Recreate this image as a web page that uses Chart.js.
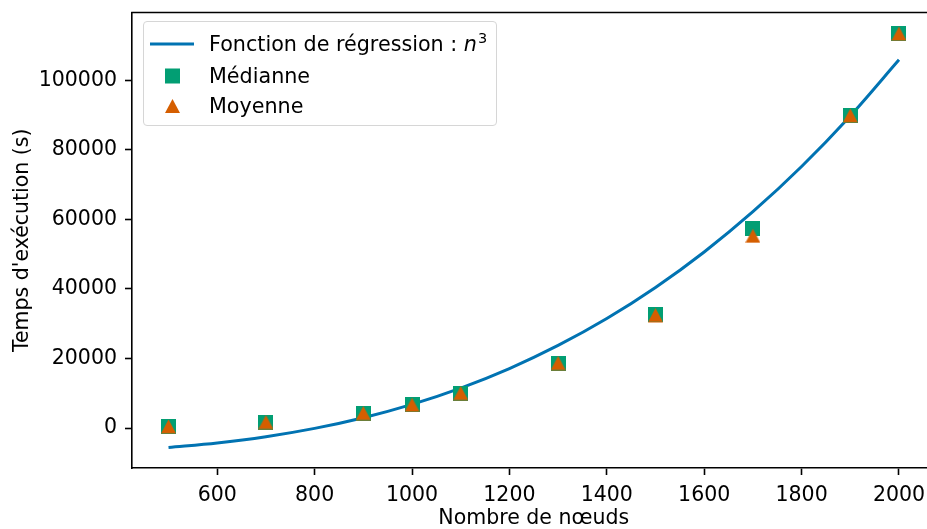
<!DOCTYPE html>
<html>
<head>
<meta charset="utf-8">
<script src="https://cdn.jsdelivr.net/npm/chart.js@4.4.1/dist/chart.umd.min.js"></script>
<style>
  html, body { margin: 0; padding: 0; background: #fff; overflow: hidden; width: 927px; height: 529px; }
  #wrap { position: relative; width: 940px; height: 529px; }
  #legend {
    position: absolute; left: 143px; top: 21px; width: 352px; height: 103px;
    border: 1px solid #d6d6d6; border-radius: 4px; background: rgba(255,255,255,0.8);
    font-family: "DejaVu Sans"; font-size: 20.7px; color: #000;
  }
  .row { position: absolute; left: 0; height: 30px; width: 100%; }
  .row .mk { position: absolute; left: 5px; top: 0; width: 46px; height: 30px; }
  .row .lb { position: absolute; left: 65px; top: 0; line-height: 30px; white-space: nowrap; }
  .row sup { font-size: 14.5px; position: relative; vertical-align: baseline; margin-left: 1px; }
</style>
</head>
<body>
<div id="wrap">
  <canvas id="chart" width="940" height="529"></canvas>
  <div id="legend">
    <div class="row" style="top:7px">
      <svg class="mk" viewBox="0 0 46 30"><line x1="1" y1="15" x2="45" y2="15" stroke="#0173B2" stroke-width="3"/></svg>
      <span class="lb">Fonction de régression : <i>n</i><sup style="top:-8px">3</sup></span>
    </div>
    <div class="row" style="top:39px">
      <svg class="mk" viewBox="0 0 46 30"><rect x="16" y="7.5" width="15" height="15" fill="#029E73"/></svg>
      <span class="lb">Médianne</span>
    </div>
    <div class="row" style="top:69px">
      <svg class="mk" viewBox="0 0 46 30"><polygon points="23.5,8 16,22 31,22" fill="#D55E00"/></svg>
      <span class="lb">Moyenne</span>
    </div>
  </div>
</div>
<script>
// valeurs
const nodes = [500, 700, 900, 1000, 1100, 1300, 1500, 1700, 1900, 2000];
const medianTimes = [460, 1720, 4310, 6700, 10060, 18690, 32580, 57300, 89790, 113570];
const meanTimes = [460, 1720, 4310, 6700, 10060, 18690, 32500, 55290, 89900, 113430];

// courbe de régression
const fitX = [500, 600, 700, 800, 900, 1000, 1100, 1200, 1300, 1400, 1500, 1600, 1700, 1800, 1900, 2000];
const fitY = [-5578, -4290, -2492, -100, 2972, 6808, 11494, 17113, 23752, 31495, 40427, 50633, 62198, 75206, 89744, 105895];

const yTicks = [0, 20000, 40000, 60000, 80000, 100000];
const xTicks = [600, 800, 1000, 1200, 1400, 1600, 1800, 2000];

const FONT = { family: "DejaVu Sans", size: 20.5 };

const pts = (xs, ys) => xs.map((x, i) => ({ x: x, y: ys[i] }));

// marqueurs façon matplotlib (carré et triangle centrés)
function marker(kind, color) {
  const c = document.createElement("canvas");
  c.width = 15; c.height = 15;
  const g = c.getContext("2d");
  g.fillStyle = color;
  if (kind === "square") {
    g.fillRect(0, 0, 15, 15);
  } else {
    g.beginPath();
    g.moveTo(7.5, 0.5);
    g.lineTo(15, 14.5);
    g.lineTo(0, 14.5);
    g.closePath();
    g.fill();
  }
  return c;
}

const topSpine = {
  id: "topSpine",
  afterDraw(chart) {
    const a = chart.chartArea, ctx = chart.ctx;
    ctx.save();
    ctx.strokeStyle = "#000";
    ctx.lineWidth = 1.6;
    ctx.beginPath();
    ctx.moveTo(a.left - 0.8, a.top);
    ctx.lineTo(a.right, a.top);
    ctx.stroke();
    ctx.restore();
  }
};

new Chart(document.getElementById("chart"), {
  type: "scatter",
  data: {
    datasets: [
      {
        label: "Moyenne",
        data: pts(nodes, meanTimes),
        pointStyle: marker("triangle", "#D55E00"),
        pointRadius: 8,
        order: 1
      },
      {
        label: "Médianne",
        data: pts(nodes, medianTimes),
        pointStyle: marker("square", "#029E73"),
        pointRadius: 8,
        order: 2
      },
      {
        type: "line",
        label: "Fonction de régression : n³",
        data: pts(fitX, fitY),
        borderColor: "#0173B2",
        borderWidth: 3,
        pointRadius: 0,
        cubicInterpolationMode: "monotone",
        fill: false,
        order: 3
      }
    ]
  },
  options: {
    responsive: false,
    animation: false,
    layout: { autoPadding: false, padding: { left: 0, right: 4.5, top: 12.5, bottom: 0 } },
    plugins: { legend: { display: false }, tooltip: { enabled: false } },
    scales: {
      x: {
        type: "linear",
        min: 425,
        max: 2075,
        afterBuildTicks: (s) => { s.ticks = xTicks.map(v => ({ value: v })); },
        afterFit: (s) => { s.height = 61; s.paddingLeft = 0; s.paddingRight = 0; },
        border: { display: true, color: "#000", width: 1.6 },
        grid: { display: true, drawOnChartArea: false, drawTicks: true, tickLength: 7, tickColor: "#000", tickWidth: 1.6 },
        ticks: { color: "#000", font: FONT, padding: 8, maxRotation: 0, callback: (v) => String(v) },
        title: { display: true, text: "Nombre de nœuds", color: "#000", font: { family: FONT.family, size: FONT.size, lineHeight: 1 }, padding: { top: 0, bottom: 0 } }
      },
      y: {
        type: "linear",
        min: -11500,
        max: 119500,
        afterBuildTicks: (s) => { s.ticks = yTicks.map(v => ({ value: v })); },
        afterFit: (s) => { s.width = 132; s.paddingTop = 0; s.paddingBottom = 0; },
        border: { display: true, color: "#000", width: 1.6 },
        grid: { display: true, drawOnChartArea: false, drawTicks: true, tickLength: 7, tickColor: "#000", tickWidth: 1.6 },
        ticks: { color: "#000", font: FONT, padding: 8, callback: (v) => String(v) },
        title: { display: true, text: "Temps d'exécution (s)", color: "#000", font: { family: FONT.family, size: FONT.size, lineHeight: 1 }, padding: { top: 12, bottom: 0 } }
      }
    }
  },
  plugins: [topSpine]
});
</script>
</body>
</html>
